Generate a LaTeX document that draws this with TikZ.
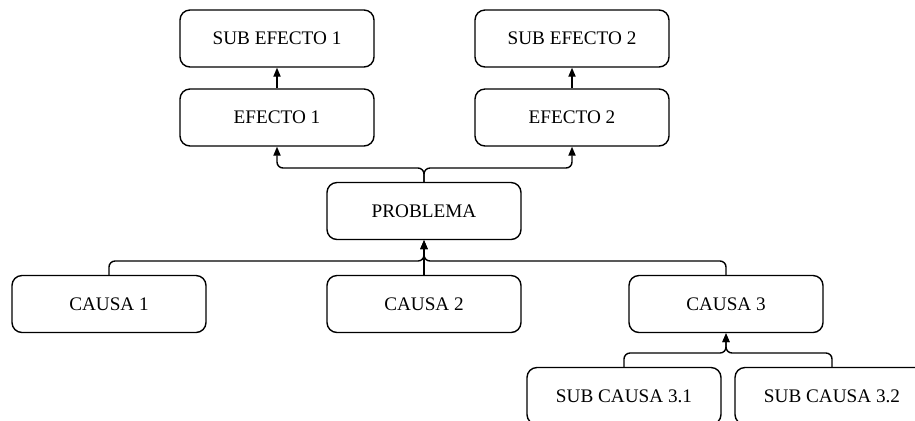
\documentclass[tikz,border=0pt]{standalone}
\usepackage{fontspec}
\setmainfont{Liberation Serif}
\usetikzlibrary{arrows.meta}
\begin{document}
\begin{tikzpicture}[x=0.5pt,y=-0.5pt,
  box/.style={draw,line width=0.7pt,rounded corners=5pt,minimum width=97pt,minimum height=28.5pt,
    inner sep=0pt,font=\fontsize{9.6}{11}\selectfont},
  link/.style={line width=0.7pt,rounded corners=3pt},
  tip/.style={-{Triangle[length=4.5pt,width=3.6pt]}}]
\useasboundingbox (0,0) rectangle (915,420);
\clip (0,0) rectangle (915,420);
% effects
\node[box] (se1) at (277,38.5) {SUB EFECTO 1};
\node[box] (se2) at (572,38.5) {SUB EFECTO 2};
\node[box] (e1) at (277,117.5) {EFECTO 1};
\node[box] (e2) at (572,117.5) {EFECTO 2};
% central problem
\node[box] (p) at (424,211) {PROBLEMA};
% causes
\node[box] (c1) at (109,304) {CAUSA 1};
\node[box] (c2) at (424,304) {CAUSA 2};
\node[box] (c3) at (726,304) {CAUSA 3};
\node[box] (sc1) at (624,396) {SUB CAUSA 3.1};
\node[box] (sc2) at (832,396) {SUB CAUSA 3.2};
% connectors
\draw[link,tip] (e1.north) -- (se1.south);
\draw[link,tip] (e2.north) -- (se2.south);
\draw[link,tip] (p.north) |- (350,168) -| (e1.south);
\draw[link,tip] (p.north) |- (500,168) -| (e2.south);
\draw[link,tip] (c1.north) |- (300,261) -| (p.south);
\draw[link,tip] (c3.north) |- (550,261) -| (p.south);
\draw[link,tip] (c2.north) -- (p.south);
\draw[link,tip] (sc1.north) |- (680,353) -| (c3.south);
\draw[link,tip] (sc2.north) |- (780,353) -| (c3.south);
\end{tikzpicture}
\end{document}
